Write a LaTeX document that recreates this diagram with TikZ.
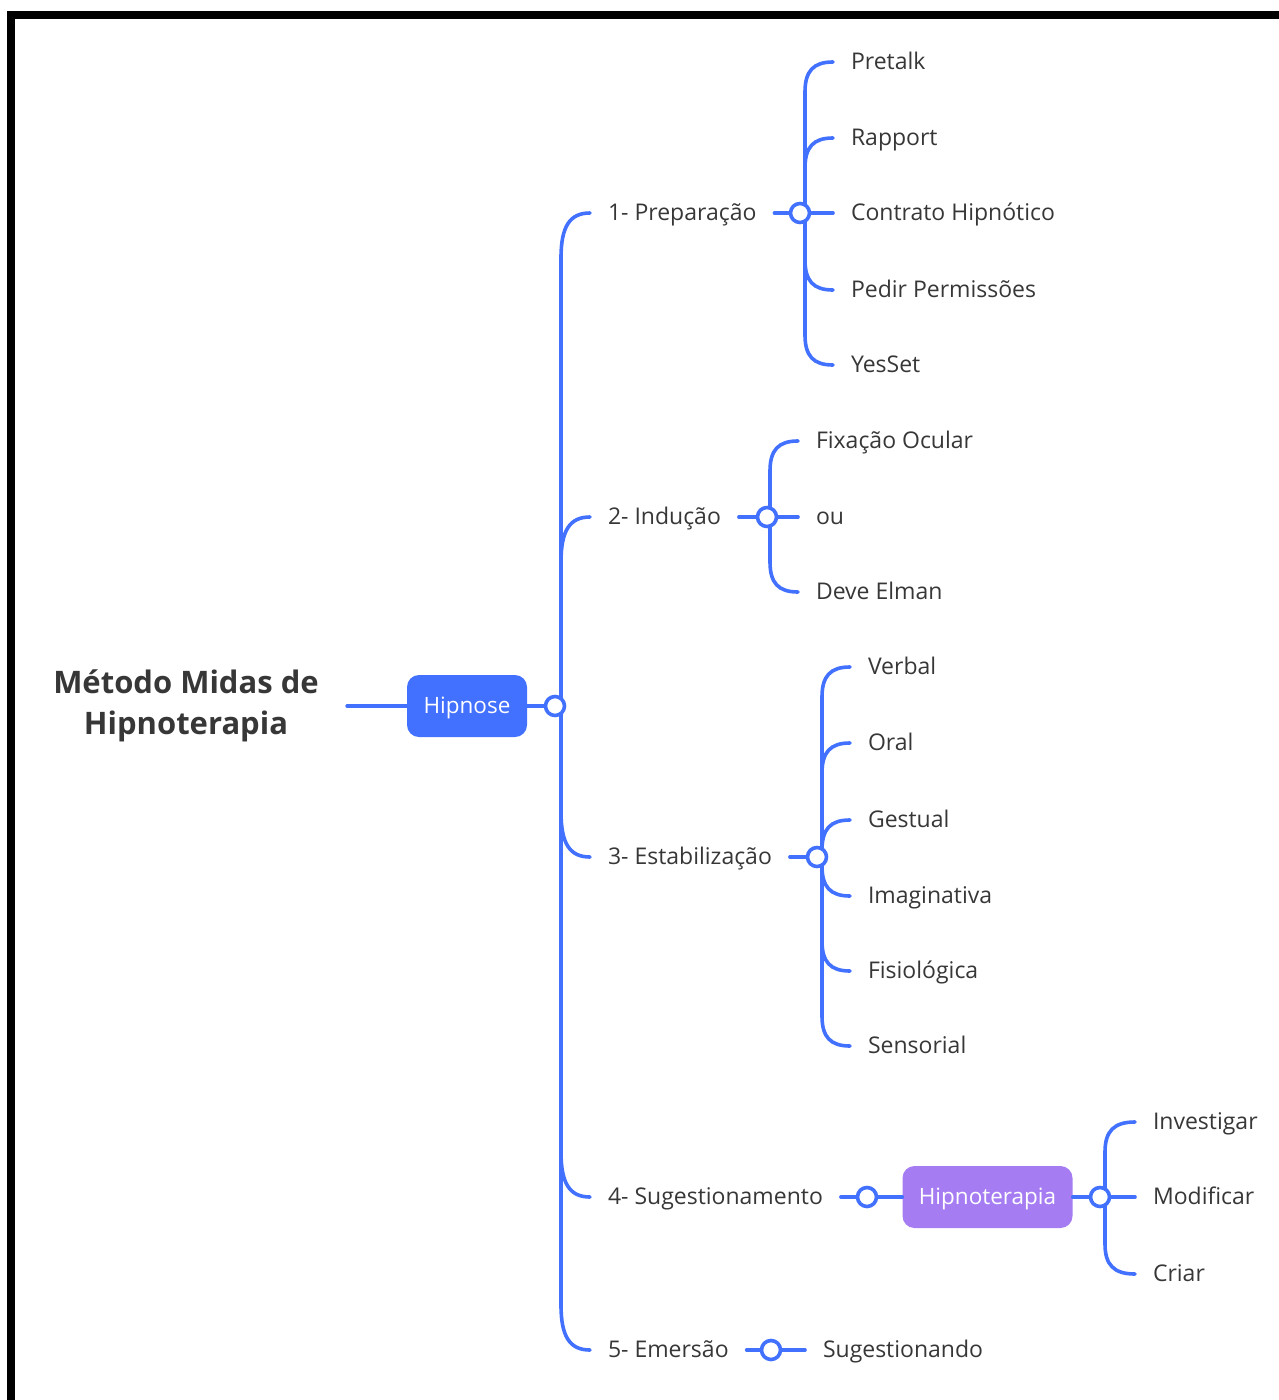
\documentclass[tikz,border=0pt]{standalone}
\usepackage{fontspec}
\setmainfont{Open Sans}
\usetikzlibrary{calc}
\definecolor{mapblue}{RGB}{66,112,255}
\definecolor{mappurple}{RGB}{166,124,242}
\definecolor{maptext}{RGB}{55,55,55}
\tikzset{
    link/.style={draw=mapblue,line width=3.6pt,line cap=round},
    branch/.style={to path={let \p1=(\tikztostart),\p2=(\tikztotarget),
        \n1={sign(\y1-\y2)*min(#1,abs(\y2-\y1))} in
        -- (\x1,{\y2+\n1*1pt}) .. controls (\x1,{\y2+\n1*0.3pt}) and ({\x1+0.3*(\x2-\x1)},\y2) .. (\p2)}},
    branch/.default=40,
    junc/.style={circle,draw=mapblue,fill=white,line width=3.6pt,minimum size=19pt,inner sep=0pt},
    leaf/.style={anchor=west,inner xsep=0pt,outer xsep=18pt,inner ysep=0pt,text height=14pt,text depth=0pt,text=maptext,font=\fontsize{23}{27}\selectfont},
    topic/.style={rounded corners=12pt,text=white,minimum height=62pt,text height=14pt,text depth=0pt,font=\fontsize{22.5}{27}\selectfont}
}
\begin{document}
\begin{tikzpicture}[x=1pt,y=-1pt]
\useasboundingbox (0,0) rectangle (1279,1400);
\draw[line width=8pt] (11,1400) -- (11,15) -- (1279,15);

% root
\node[font=\bfseries\fontsize{31}{41}\selectfont,text=maptext,align=center,outer xsep=25pt] (root) at (186,706) {Método Midas de\\Hipnoterapia};
\node[topic,fill=mapblue,minimum width=120pt] (hip) at (467,706) {Hipnose};
\coordinate (hj) at (555,706);
\draw[link] (root.east) -- (hip.west);
\draw[link] (hip.east) -- (hj);

% main branches
\node[leaf] (prep) at (590,213) {1- Preparação};
\node[leaf] (ind) at (590,517) {2- Indução};
\node[leaf] (est) at (590,857) {3- Estabilização};
\node[leaf] (sug) at (590,1197) {4- Sugestionamento};
\node[leaf] (eme) at (590,1350) {5- Emersão};
\foreach \c in {prep,ind,est,sug,eme}
    \draw[link] ([xshift=6pt]hj) to[branch=45] (\c.west);

% 1- Preparacao
\coordinate (pj) at (800,213);
\node[leaf] (pre1) at (833,62) {Pretalk};
\node[leaf] (pre2) at (833,138) {Rapport};
\node[leaf] (pre3) at (833,213) {Contrato Hipnótico};
\node[leaf] (pre4) at (833,290) {Pedir Permissões};
\node[leaf] (pre5) at (833,365) {YesSet};
\draw[link] (prep.east) -- (pj);
\foreach \c in {pre1,pre2,pre3,pre4,pre5}
    \draw[link] ([xshift=5pt]pj) to[branch=30] (\c.west);

% 2- Inducao
\coordinate (ij) at (767,517);
\node[leaf] (ind1) at (798,441) {Fixação Ocular};
\node[leaf] (ind2) at (798,517) {ou};
\node[leaf] (ind3) at (798,592) {Deve Elman};
\draw[link] (ind.east) -- (ij);
\foreach \c in {ind1,ind2,ind3}
    \draw[link] ([xshift=3pt]ij) to[branch=30] (\c.west);

% 3- Estabilizacao
\coordinate (ej) at (817,857);
\node[leaf] (est1) at (850,667) {Verbal};
\node[leaf] (est2) at (850,743) {Oral};
\node[leaf] (est3) at (850,820) {Gestual};
\node[leaf] (est4) at (850,896) {Imaginativa};
\node[leaf] (est5) at (850,971) {Fisiológica};
\node[leaf] (est6) at (850,1046) {Sensorial};
\draw[link] (est.east) -- (ej);
\foreach \c in {est1,est2,est3,est4,est5,est6}
    \draw[link] ([xshift=5pt]ej) to[branch=30] (\c.west);

% 4- Sugestionamento
\coordinate (sj) at (867,1197);
\node[topic,fill=mappurple,minimum width=170pt] (hter) at (987.5,1197) {Hipnoterapia};
\coordinate (tj) at (1100,1197);
\node[leaf] (ter1) at (1135,1122) {Investigar};
\node[leaf] (ter2) at (1135,1197) {Modificar};
\node[leaf] (ter3) at (1135,1274) {Criar};
\draw[link] (sug.east) -- (sj) -- (hter.west);
\draw[link] (hter.east) -- (tj);
\foreach \c in {ter1,ter2,ter3}
    \draw[link] ([xshift=5pt]tj) to[branch=30] (\c.west);

% 5- Emersao
\coordinate (mj) at (771,1350);
\node[leaf] (eme1) at (805,1350) {Sugestionando};
\draw[link] (eme.east) -- (mj) -- (eme1.west);

% junctions
\foreach \j in {hj,pj,ij,ej,sj,tj,mj}
    \node[junc] at (\j) {};
\end{tikzpicture}
\end{document}
